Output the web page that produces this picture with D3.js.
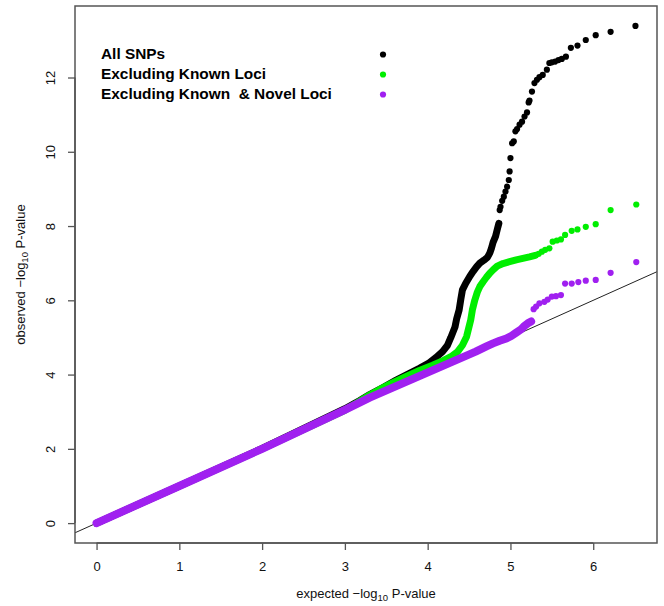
<!DOCTYPE html>
<html><head><meta charset="utf-8">
<script src="https://cdn.jsdelivr.net/npm/d3@7"></script>
<style>body{margin:0;background:#fff} svg{display:block;font-family:"Liberation Sans",Arial,sans-serif}</style>
</head><body><svg id="chart" width="664" height="606"></svg>
<script>
const seriesNames = ["All SNPs", "Excluding Known Loci", "Excluding Known  & Novel Loci"];
const seriesColors = ["#000000", "#00ee00", "#a020f0"];
const xTicks = [0, 1, 2, 3, 4, 5, 6];
const yTicks = [0, 2, 4, 6, 8, 10, 12];
const xLimits = [0, 6.51];
const yLimits = [0, 13.39];

// [expected, observed] -log10 P; dense part (overlapping points) and sparse tail
const allDense = [[0,0],[1,1.0],[2,2.01],[3,3.08],[3.18,3.3],[3.30,3.46],[3.46,3.65],[3.62,3.85],[3.78,4.03],[3.90,4.17],[4.02,4.32],[4.10,4.46],[4.18,4.62],[4.24,4.79],[4.28,5.0],[4.33,5.28],[4.35,5.5],[4.38,5.74],[4.40,6.02],[4.42,6.28],[4.46,6.46],[4.51,6.65],[4.55,6.78],[4.59,6.9],[4.63,7.0],[4.68,7.08],[4.72,7.15],[4.75,7.27],[4.77,7.4],[4.79,7.56],[4.82,7.72],[4.84,7.9],[4.86,8.07]];
const allTail = [[4.87,8.43],[4.88,8.52],[4.90,8.68],[4.92,8.79],[4.94,8.93],[4.96,9.06],[4.98,9.24],[4.99,9.47],[5.00,9.83],[5.02,10.23],[5.04,10.28],[5.06,10.55],[5.08,10.61],[5.11,10.73],[5.14,10.81],[5.17,10.95],[5.20,11.06],[5.22,11.33],[5.23,11.38],[5.26,11.62],[5.29,11.85],[5.32,11.94],[5.35,12.01],[5.39,12.07],[5.44,12.21],[5.47,12.39],[5.50,12.41],[5.54,12.43],[5.58,12.47],[5.62,12.50],[5.67,12.56],[5.73,12.80],[5.81,12.86],[5.91,13.01],[6.03,13.14],[6.21,13.23],[6.51,13.39]];
const knownDense = [[0,0],[1,1.0],[2,2.0],[3,3.04],[3.26,3.4],[3.42,3.6],[3.58,3.78],[3.74,3.95],[3.90,4.11],[4.06,4.25],[4.18,4.37],[4.28,4.48],[4.36,4.61],[4.42,4.79],[4.47,5.02],[4.50,5.29],[4.52,5.47],[4.54,5.74],[4.57,6.01],[4.60,6.22],[4.63,6.37],[4.67,6.50],[4.71,6.62],[4.75,6.73],[4.79,6.82],[4.84,6.92],[4.91,6.99],[4.99,7.04],[5.07,7.09],[5.15,7.13],[5.23,7.17],[5.30,7.21]];
const knownTail = [[5.34,7.25],[5.38,7.31],[5.42,7.36],[5.47,7.40],[5.51,7.58],[5.56,7.61],[5.61,7.64],[5.66,7.76],[5.74,7.87],[5.81,7.91],[5.91,7.98],[6.03,8.05],[6.21,8.43],[6.52,8.58]];
const novelDense = [[0,0],[1,1.0],[2,2.0],[3,3.05],[3.30,3.38],[3.62,3.69],[3.94,4.0],[4.26,4.31],[4.58,4.62],[4.71,4.76],[4.79,4.84],[4.87,4.91],[4.95,4.97],[5.01,5.04],[5.07,5.13],[5.13,5.22],[5.17,5.31],[5.21,5.38],[5.25,5.43]];
const novelTail = [[5.28,5.76],[5.31,5.83],[5.35,5.92],[5.41,5.96],[5.45,6.02],[5.50,6.10],[5.55,6.11],[5.61,6.14],[5.66,6.45],[5.74,6.45],[5.82,6.49],[5.91,6.53],[6.03,6.55],[6.21,6.74],[6.52,7.03]];

const denseSets = [allDense, knownDense, novelDense];
const tailSets = [allTail, knownTail, novelTail];
const denseWidths = [7, 7, 8];

const plot = {left: 75, right: 657, top: 6, bottom: 543};
const svg = d3.select("#chart");
const padX = (xLimits[1]-xLimits[0])*0.04, padY = (yLimits[1]-yLimits[0])*0.04;
const x = d3.scaleLinear().domain([xLimits[0]-padX, xLimits[1]+padX]).range([plot.left, plot.right]);
const y = d3.scaleLinear().domain([yLimits[0]-padY, yLimits[1]+padY]).range([plot.bottom, plot.top]);

svg.append("defs").append("clipPath").attr("id","clip").append("rect")
  .attr("x", plot.left).attr("y", plot.top).attr("width", plot.right-plot.left).attr("height", plot.bottom-plot.top);

const g = svg.append("g").attr("clip-path","url(#clip)");
// reference line y = x
const dom = x.domain();
g.append("line").attr("x1", x(dom[0])).attr("y1", y(dom[0])).attr("x2", x(dom[1])).attr("y2", y(dom[1]))
  .attr("stroke","#222").attr("stroke-width",1);

const line = d3.line().x(d=>x(d[0])).y(d=>y(d[1])).curve(d3.curveLinear);
seriesColors.forEach((c,i)=>{
  g.append("path").datum(denseSets[i]).attr("d", line).attr("fill","none").attr("stroke",c)
    .attr("stroke-width", denseWidths[i]).attr("stroke-linecap","round").attr("stroke-linejoin","round");
  g.selectAll(null).data(tailSets[i]).join("circle").attr("cx",d=>x(d[0])).attr("cy",d=>y(d[1])).attr("r",3.1).attr("fill",c);
});

// box
svg.append("rect").attr("x",plot.left).attr("y",plot.top).attr("width",plot.right-plot.left).attr("height",plot.bottom-plot.top)
  .attr("fill","none").attr("stroke","#555").attr("stroke-width",1.5);

// axes
const xAxis = d3.axisBottom(x).tickValues(xTicks).tickSize(7).tickPadding(12).tickFormat(d3.format("d"));
const xg = svg.append("g").attr("transform",`translate(0,${plot.bottom})`).call(xAxis);
xg.select(".domain").attr("stroke","#555").attr("stroke-width",1.5).attr("d",`M${x(0)},0H${x(6)}`);
xg.selectAll(".tick line").attr("stroke","#555").attr("stroke-width",1.3);
xg.selectAll(".tick text").attr("font-size",13).attr("fill","#111").attr("font-family","Liberation Sans, Arial, sans-serif");

const yAxis = d3.axisLeft(y).tickValues(yTicks).tickSize(7).tickPadding(0).tickFormat(d3.format("d"));
const yg = svg.append("g").attr("transform",`translate(${plot.left},0)`).call(yAxis);
yg.select(".domain").attr("stroke","#555").attr("stroke-width",1.5).attr("d",`M0,${y(0)}V${y(12)}`);
yg.selectAll(".tick line").attr("stroke","#555").attr("stroke-width",1.3);
yg.selectAll(".tick text").attr("font-size",13).attr("fill","#111").attr("font-family","Liberation Sans, Arial, sans-serif")
  .attr("x",0).attr("dy",0).attr("text-anchor","middle").attr("dominant-baseline","central")
  .attr("transform","translate(-25,0) rotate(-90)");

// axis titles
function title(sel, tx, ty, rot){
  const t = svg.append("text").attr("transform",`translate(${tx},${ty}) rotate(${rot})`).attr("text-anchor","middle")
    .attr("font-size",13).attr("fill","#111");
  t.append("tspan").text(sel+" \u2212log");
  t.append("tspan").attr("font-size",9.5).attr("dy",3).text("10");
  t.append("tspan").attr("dy",-3).text(" P-value");
}
title("expected", (plot.left+plot.right)/2, 598, 0);
title("observed", 25, (plot.top+plot.bottom)/2, -90);

// legend
const legendX = 101, legendY0 = 59, legendStep = 20, legendDotX = 383;
seriesNames.forEach((n,i)=>{
  svg.append("text").attr("x",legendX).attr("y",legendY0+i*legendStep).attr("font-size",15.4).attr("font-weight","bold")
    .attr("fill","#000").style("white-space","pre").text(n);
  svg.append("circle").attr("cx",legendDotX).attr("cy",legendY0+i*legendStep-4.5).attr("r",3.1).attr("fill",seriesColors[i]);
});
</script></body></html>
